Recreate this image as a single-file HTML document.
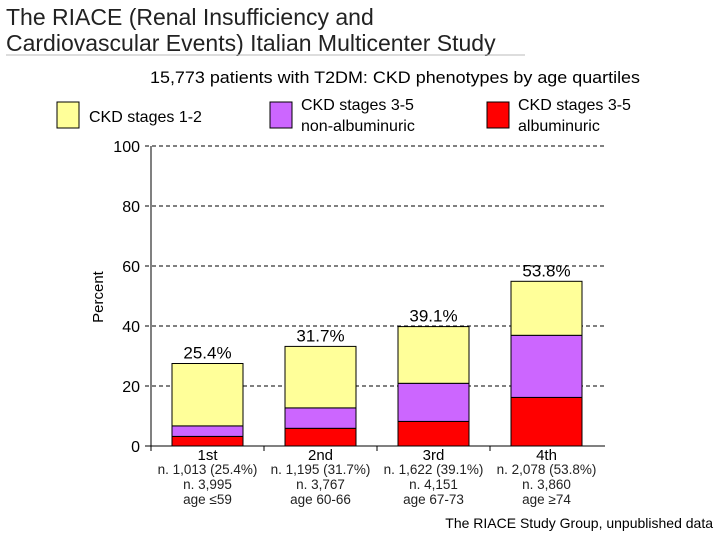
<!DOCTYPE html>
<html><head><meta charset="utf-8"><style>
body{margin:0;background:#fff;width:720px;height:540px;overflow:hidden;font-family:"Liberation Sans",sans-serif}
</style></head><body>
<svg width="720" height="540" font-family="Liberation Sans, sans-serif">
<text x="6" y="25" font-size="23" fill="#222">The RIACE (Renal Insufficiency and</text>
<text x="6" y="51" font-size="23" fill="#222">Cardiovascular Events) Italian Multicenter Study</text>
<line x1="6" y1="55" x2="525" y2="55" stroke="#bbb" stroke-width="1"/>
<text x="395" y="83" font-size="17" text-anchor="middle" fill="#000" textLength="490" lengthAdjust="spacingAndGlyphs">15,773 patients with T2DM: CKD phenotypes by age quartiles</text>
<g>
<rect x="57" y="102" width="22" height="26" fill="#ffff99" stroke="#000"/>
<text x="89" y="122" font-size="16">CKD stages 1-2</text>
<rect x="270" y="102" width="22" height="26" fill="#cc66ff" stroke="#000"/>
<text x="301" y="110" font-size="16">CKD stages 3-5</text>
<text x="301" y="131" font-size="16">non-albuminuric</text>
<rect x="487" y="102" width="22" height="26" fill="#ff0000" stroke="#000"/>
<text x="518" y="110" font-size="16">CKD stages 3-5</text>
<text x="518" y="131" font-size="16">albuminuric</text>
</g>
<text transform="translate(103,297) rotate(-90)" font-size="15" text-anchor="middle">Percent</text>
<g id="plot"></g>
<text x="713" y="528" font-size="14" text-anchor="end">The RIACE Study Group, unpublished data</text>
</svg>
<script>
const categories=["1st","2nd","3rd","4th"];
const alb=[3.2,5.9,8.2,16.2];
const nonalb=[3.5,6.8,12.7,20.7];
const stage12=[20.8,20.5,18.9,18.0];
const totals=["25.4%","31.7%","39.1%","53.8%"];
const nLines=["n. 1,013 (25.4%)","n. 1,195 (31.7%)","n. 1,622 (39.1%)","n. 2,078 (53.8%)"];
const nTotal=["n. 3,995","n. 3,767","n. 4,151","n. 3,860"];
const ages=["age \u226459","age 60-66","age 67-73","age \u226574"];
const yTicks=[0,20,40,60,80,100];
const NS="http://www.w3.org/2000/svg";
const g=document.getElementById("plot");
const x0=151,x1=603,yb=446,yt=146;
const y=v=>yb-(v/100)*(yb-yt);
const slot=(x1-x0)/categories.length;
function mk(t,a){const e=document.createElementNS(NS,t);for(const k in a)e.setAttribute(k,a[k]);g.appendChild(e);return e;}
yTicks.forEach(v=>{
 if(v>0){const l=mk("line",{x1:145,x2:605,y1:y(v),y2:y(v),stroke:"#000","stroke-dasharray":"4,3"});
 
 }
 const t=mk("text",{x:140,y:y(v)+6,"font-size":16,"text-anchor":"end"});t.textContent=v;
 
 
});
const ax=mk("line",{x1:x0,x2:x0,y1:yt,y2:yb,stroke:"#000"});


const xa=mk("line",{x1:145,x2:605,y1:yb,y2:yb,stroke:"#000"});


categories.forEach((c,i)=>{
 const tx=x0+slot*i;
 const tk=mk("line",{x1:tx,x2:tx,y1:yb,y2:yb+5,stroke:"#000"});
 
 
 const cx=x0+slot*(i+0.5), bw=71, bx=cx-bw/2;
 let base=0;
 [[alb[i],"#ff0000","bar-albuminuric"],[nonalb[i],"#cc66ff","bar-non-albuminuric"],[stage12[i],"#ffff99","bar-stage-1-2"]].forEach(([v,col,nm])=>{
  const r=mk("rect",{x:bx,y:y(base+v),width:bw,height:y(base)-y(base+v),fill:col,stroke:"#000"});
  
  
  base+=v;
 });
 const lb=mk("text",{x:cx,y:y(base)-5,"font-size":17,"text-anchor":"middle"});lb.textContent=totals[i];
 
 
 const cl=mk("text",{x:cx,y:yb+14,"font-size":15,"text-anchor":"middle"});cl.textContent=c;
 
 
 [[nLines[i],474],[nTotal[i],489],[ages[i],504]].forEach(([s,yy])=>{
  const t=mk("text",{x:cx,y:yy,"font-size":13.5,"text-anchor":"middle",fill:"#222"});t.textContent=s;
  
  
 });
});
</script>
</body></html>
